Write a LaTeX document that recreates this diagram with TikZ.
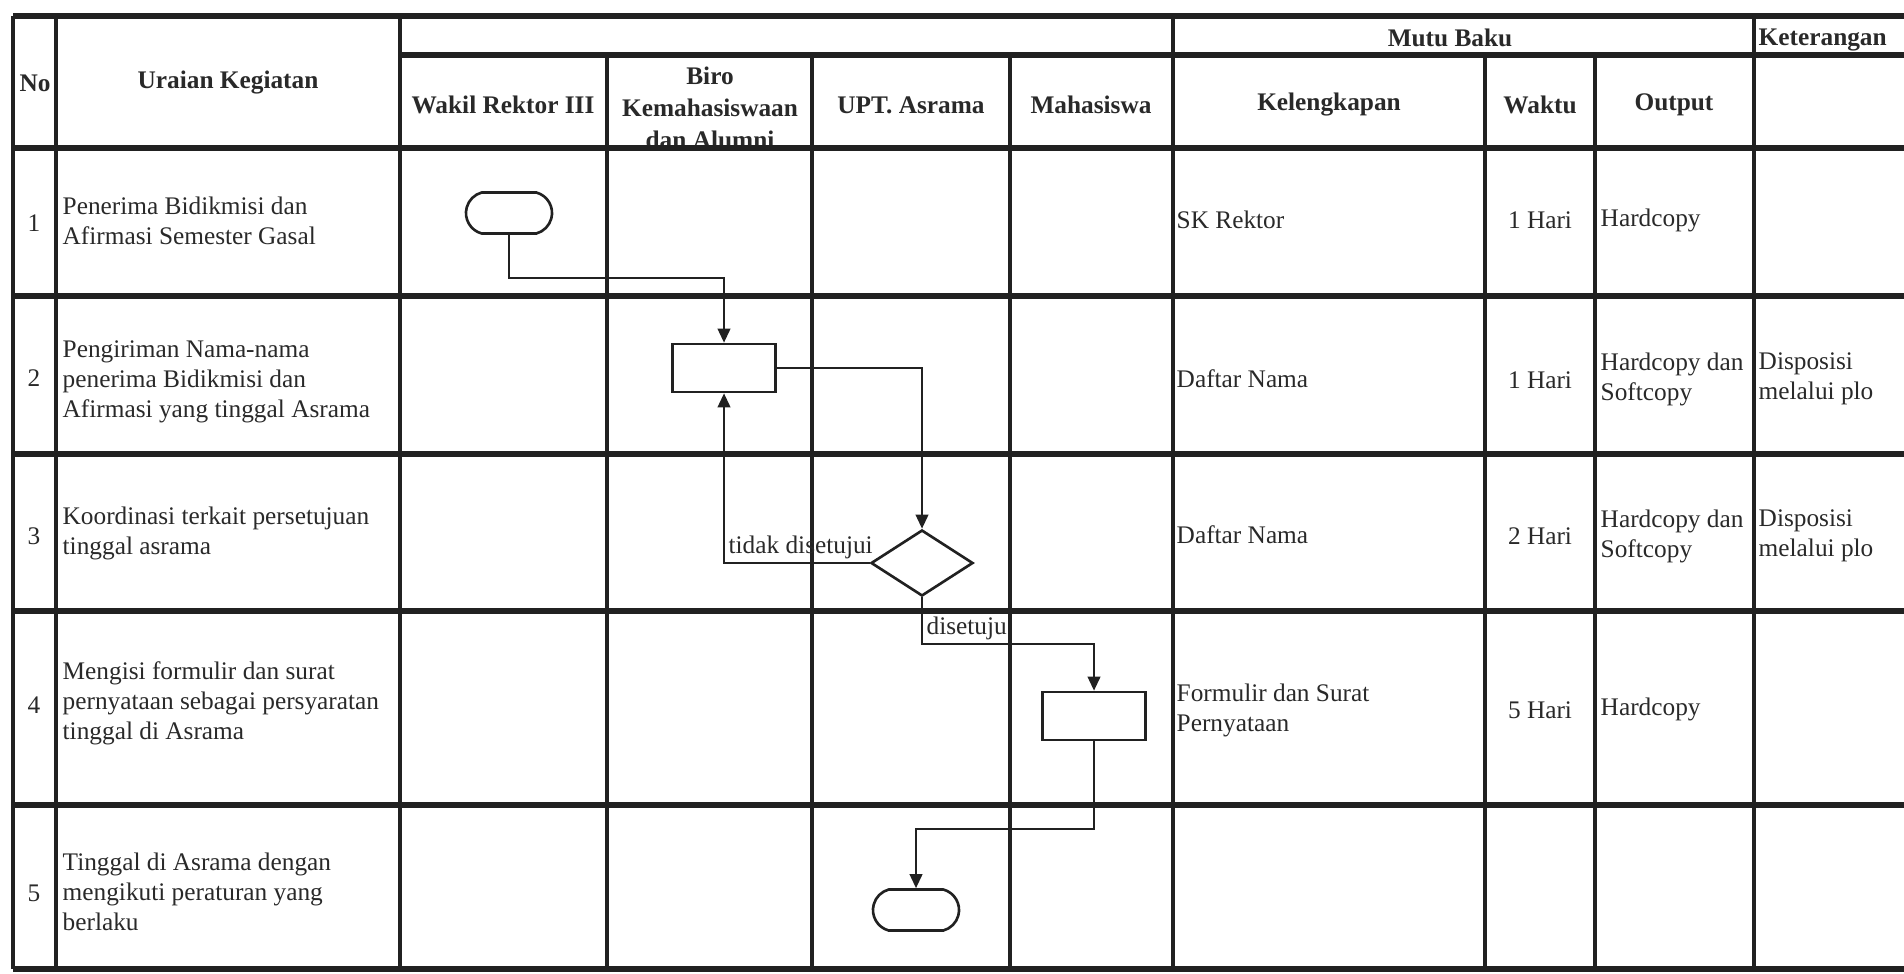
\documentclass[tikz,border=0pt]{standalone}
\usepackage{fontspec}
\setmainfont{Liberation Serif}
\usepackage{tikz}
\usetikzlibrary{positioning, arrows.meta, shapes.geometric, shapes.misc}
\definecolor{inkline}{gray}{0.13}
\definecolor{inktext}{gray}{0.16}
\tikzset{
    gridline/.style={line width=1.1pt, draw=inkline},
    rowline/.style={line width=1.5pt, draw=inkline},
    terminal/.style={rounded rectangle, rounded rectangle arc length=150, draw=inkline, line width=0.75pt, minimum width=0.86cm, minimum height=0.41cm, inner sep=0pt},
    process/.style={rectangle, draw=inkline, line width=0.75pt, minimum width=1.03cm, minimum height=0.48cm, inner sep=0pt},
    decision/.style={diamond, draw=inkline, line width=0.75pt, minimum width=1.02cm, minimum height=0.66cm, inner sep=0pt},
    flowarrow/.style={-{Triangle[length=4pt,width=3.6pt]}, line width=0.6pt, draw=inkline},
    headtext/.style={font=\fontsize{7.2}{9.2}\selectfont\bfseries, align=center, text=inktext, inner sep=0pt},
    celltext/.style={font=\fontsize{7.2}{8.5}\selectfont, align=left, anchor=west, text=inktext, inner sep=0pt},
    numtext/.style={font=\fontsize{7.2}{8.5}\selectfont, text=inktext, inner sep=0pt},
    flowlabel/.style={font=\fontsize{7.2}{8.5}\selectfont, text=inktext, inner sep=1pt, anchor=south west}
}

\begin{document}
\begin{tikzpicture}[x=0.01cm, y=-0.01cm]
            \useasboundingbox (0,0) rectangle (1904,973);

            % Header
            \node[headtext] (hno) at (35,83) {No};
            \node[headtext] (huraian) at (228,83) {Uraian Kegiatan};
            \node[headtext] (hmutu) at (1450,38) {Mutu Baku};
            \node[headtext, anchor=west] (hket) at (1758,40) {Keterangan};
            \node[headtext] (hwakil) at (503,105) {Wakil Rektor III};
            \node[headtext] (hbiro) at (710,108) {Biro\\Kemahasiswaan\\dan Alumni};
            \node[headtext] (hupt) at (911,105) {UPT. Asrama};
            \node[headtext] (hmhs) at (1091,105) {Mahasiswa};
            \node[headtext] (hkel) at (1329,105) {Kelengkapan};
            \node[headtext] (hwaktu) at (1540,105) {Waktu};
            \node[headtext] (houtput) at (1674,105) {Output};

            % Rows
            \node[numtext] (n1) at (34,223) {1};
            \node[celltext] (u1) at (62,221) {Penerima Bidikmisi dan\\Afirmasi Semester Gasal};
            \node[celltext] (k1) at (1176,220) {SK Rektor};
            \node[numtext] (w1) at (1540,220) {1 Hari};
            \node[celltext] (o1) at (1600,220) {Hardcopy};

            \node[numtext] (n2) at (34,378) {2};
            \node[celltext] (u2) at (62,382) {Pengiriman Nama-nama\\penerima Bidikmisi dan\\Afirmasi yang tinggal Asrama};
            \node[celltext] (k2) at (1176,379) {Daftar Nama};
            \node[numtext] (w2) at (1540,380) {1 Hari};
            \node[celltext] (o2) at (1600,379) {Hardcopy dan\\Softcopy};
            \node[celltext] (c2) at (1758,379) {Disposisi\\melalui plo};

            \node[numtext] (n3) at (34,536) {3};
            \node[celltext] (u3) at (62,533) {Koordinasi terkait persetujuan\\tinggal asrama};
            \node[celltext] (k3) at (1176,535) {Daftar Nama};
            \node[numtext] (w3) at (1540,536) {2 Hari};
            \node[celltext] (o3) at (1600,536) {Hardcopy dan\\Softcopy};
            \node[celltext] (c3) at (1758,536) {Disposisi\\melalui plo};

            \node[numtext] (n4) at (34,705) {4};
            \node[celltext] (u4) at (62,703) {Mengisi formulir dan surat\\pernyataan sebagai persyaratan\\tinggal di Asrama};
            \node[celltext] (k4) at (1176,710) {Formulir dan Surat\\Pernyataan};
            \node[numtext] (w4) at (1540,710) {5 Hari};
            \node[celltext] (o4) at (1600,709) {Hardcopy};

            \node[numtext] (n5) at (34,893) {5};
            \node[celltext] (u5) at (62,892) {Tinggal di Asrama dengan\\mengikuti peraturan yang\\berlaku};

            % Grid
            \draw[rowline] (13,16) -- (1904,16);
            \draw[rowline] (400,55) -- (1904,55);
            \draw[rowline] (13,148) -- (1904,148);
            \draw[rowline] (13,296) -- (1904,296);
            \draw[rowline] (13,454) -- (1904,454);
            \draw[rowline] (13,611) -- (1904,611);
            \draw[rowline] (13,805) -- (1904,805);
            \draw[rowline] (13,969) -- (1904,969);
            \draw[gridline] (13,16) -- (13,969);
            \draw[gridline] (56,16) -- (56,969);
            \draw[gridline] (400,16) -- (400,969);
            \draw[gridline] (607,55) -- (607,969);
            \draw[gridline] (812,55) -- (812,969);
            \draw[gridline] (1010,55) -- (1010,969);
            \draw[gridline] (1173,16) -- (1173,969);
            \draw[gridline] (1485,55) -- (1485,969);
            \draw[gridline] (1595,55) -- (1595,969);
            \draw[gridline] (1754,16) -- (1754,969);

            % Flow
            \node[terminal] (mulai) at (509,213) {};
            \node[process] (kirim) at (724,368) {};
            \node[decision] (koordinasi) at (922,563) {};
            \node[process] (isi) at (1094,716) {};
            \node[terminal] (selesai) at (916,910) {};

            \draw[flowarrow] (mulai.south) -- ++(0,43) -| (kirim.north);
            \draw[flowarrow] (kirim.east) -| (koordinasi.north);
            \draw[flowarrow] (koordinasi.west) -- (koordinasi.west -| kirim.south) node[flowlabel] {tidak disetujui} -- (kirim.south);
            \draw[flowarrow] (koordinasi.south) -- ++(0,47) node[flowlabel] {disetuju} -| (isi.north);
            \draw[flowarrow] (isi.south) -- ++(0,88) -| (selesai.north);
        \end{tikzpicture}
\end{document}
